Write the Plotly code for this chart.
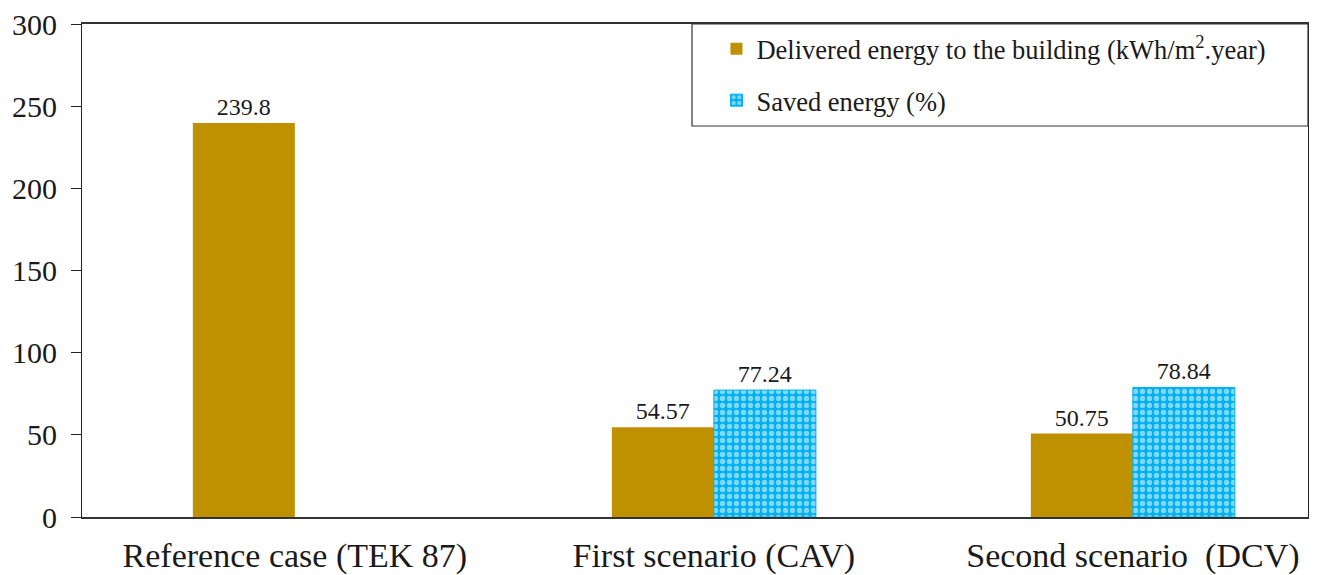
import plotly.graph_objects as go

categories = ["Reference case (TEK 87)", "First scenario (CAV)", "Second scenario  (DCV)"]
delivered = [239.8, 54.57, 50.75]
saved = [None, 77.24, 78.84]
delivered_text = ["239.8", "54.57", "50.75"]
saved_text = ["", "77.24", "78.84"]
y_ticks = [0, 50, 100, 150, 200, 250, 300]

GOLD = "#BF9000"
CYAN = "#00B0F0"
FONT = "Liberation Serif"

fig = go.Figure()
fig.add_trace(go.Bar(
    x=categories, y=delivered, name="Delivered energy to the building (kWh/m<sup>2</sup>.year)",
    marker=dict(color=GOLD, line=dict(width=0)),
    text=delivered_text, textposition="outside", cliponaxis=False,
    textfont=dict(family=FONT, size=24, color="#1a1a1a"),
    legendgroup="a",
))
fig.add_trace(go.Bar(
    x=categories, y=saved, name="Saved energy (%)",
    marker=dict(color=CYAN, line=dict(width=1, color=CYAN),
                pattern=dict(shape=".", fgcolor="white", bgcolor=CYAN, size=7, solidity=0.45)),
    text=saved_text, textposition="outside", cliponaxis=False,
    textfont=dict(family=FONT, size=24, color="#1a1a1a"),
    legendgroup="b",
))

# The page body has an 8px margin, so the figure is sized/placed to compensate.
fig.update_layout(
    width=1309, height=567,
    margin=dict(l=74, r=9, t=16, b=58, autoexpand=False),
    paper_bgcolor="white", plot_bgcolor="white",
    font=dict(family=FONT, color="#1a1a1a"),
    barmode="group", bargap=0.513, bargroupgap=0,
    showlegend=True,
    legend=dict(x=0.5175, y=0.998, xanchor="left", yanchor="top",
                font=dict(family=FONT, size=26.5, color="#1a1a1a"),
                bgcolor="rgba(0,0,0,0)", borderwidth=0, tracegroupgap=14),
    shapes=[dict(type="rect", xref="paper", yref="paper",
                 x0=(692 - 82) / 1226, x1=1, y0=(517 - 126) / 493, y1=1,
                 line=dict(color="#333333", width=1.2), fillcolor="rgba(0,0,0,0)")],
)
fig.update_xaxes(
    range=[-0.508, 2.418], showline=True, linecolor="#333333", linewidth=1.5, mirror=True,
    ticks="", showgrid=False, tickfont=dict(family=FONT, size=34, color="#1a1a1a"),
    ticklabelstandoff=7, automargin=False, ticklabeloverflow="allow",
)
fig.update_yaxes(
    range=[0, 300], tickvals=y_ticks, showline=True, linecolor="#222222", linewidth=1.2, mirror=True,
    ticks="outside", ticklen=10, tickcolor="#222222", showgrid=False, zeroline=False,
    tickfont=dict(family=FONT, size=30, color="#1a1a1a"), automargin=False,
    ticklabelstandoff=8, ticklabeloverflow="allow",
)

fig.write_html("out.html")
